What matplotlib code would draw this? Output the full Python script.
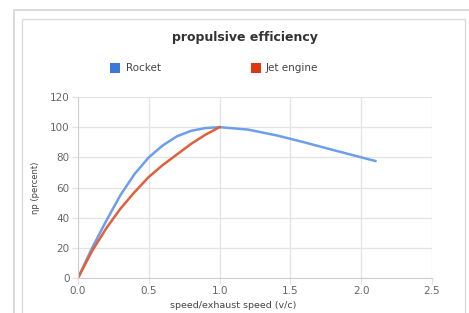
import matplotlib
matplotlib.use("Agg")
import matplotlib.pyplot as plt
from matplotlib.patches import Rectangle

# speed ratio v/c and propulsive efficiency (percent)
rocket_x = [0.0, 0.1, 0.2, 0.3, 0.4, 0.5, 0.6, 0.7, 0.8, 0.9, 1.0,
            1.2, 1.4, 1.6, 1.8, 2.0, 2.1]
rocket_eff = [0, 20, 38, 55, 69, 80, 88, 94, 97.6, 99.4, 100,
              98.4, 94.6, 89.9, 84.9, 80, 77.6]
jet_x = [0.0, 0.1, 0.2, 0.3, 0.4, 0.5, 0.6, 0.7, 0.8, 0.9, 1.0]
jet_eff = [0, 18, 33, 46, 57, 67, 75, 82, 89, 95, 100]

x_ticks = [0.0, 0.5, 1.0, 1.5, 2.0, 2.5]
y_ticks = [0, 20, 40, 60, 80, 100, 120]

W, H = 469, 313
fig = plt.figure(figsize=(W / 100, H / 100), dpi=100)
fig.patch.set_facecolor("white")

# the two grey frames around the chart
fig.patches.append(Rectangle((14 / W, -0.1), 1.0, 1 - 10 / H + 0.1, transform=fig.transFigure,
                             fill=False, edgecolor="#d4d4d4", linewidth=1.2))
fig.patches.append(Rectangle((22 / W, -0.1), (465 - 22) / W, 1 - 19 / H + 0.1, transform=fig.transFigure,
                             fill=False, edgecolor="#dcdcdc", linewidth=1.0))

ax = fig.add_axes([78 / W, 1 - 278 / H, (432 - 78) / W, (278 - 97) / H])
ax.plot(rocket_x, rocket_eff, color="#6d9eeb", lw=1.8, solid_joinstyle="round")
ax.plot(jet_x, jet_eff, color="#e0603c", lw=1.8, solid_joinstyle="round")

ax.set_xlim(0, 2.5)
ax.set_ylim(0, 120)
ax.set_xticks(x_ticks)
ax.set_yticks(y_ticks)
ax.set_xticklabels([f"{v:.1f}" for v in x_ticks])
ax.grid(True, color="#e3e3e3", lw=0.9)
ax.set_axisbelow(True)
for s in ["top", "right"]:
    ax.spines[s].set_visible(False)
for s in ["left", "bottom"]:
    ax.spines[s].set_color("#cfcfcf")
ax.tick_params(length=4, width=0.9, color="#e3e3e3", labelsize=7.5, labelcolor="#666666", pad=2)

ax.set_ylabel("ηp (percent)", fontsize=6, color="#444444", labelpad=7)
fig.text(233 / W, 1 - 305 / H, "speed/exhaust speed (v/c)", ha="center", va="center",
         fontsize=6.8, color="#444444")

fig.text(245 / W, 1 - 38 / H, "propulsive efficiency", ha="center", va="center",
         fontsize=9, fontweight="bold", color="#333333")

# legend
fig.patches.append(Rectangle((110 / W, 1 - 73 / H), 10 / W, 10 / H, transform=fig.transFigure,
                             facecolor="#3c78d8", edgecolor="none"))
fig.text(126 / W, 1 - 68 / H, "Rocket", fontsize=7.5, va="center", color="#444444")
fig.patches.append(Rectangle((251 / W, 1 - 73 / H), 10 / W, 10 / H, transform=fig.transFigure,
                             facecolor="#dc3912", edgecolor="none"))
fig.text(266 / W, 1 - 68 / H, "Jet engine", fontsize=7.5, va="center", color="#444444")

fig.savefig("out.png", dpi=100)
